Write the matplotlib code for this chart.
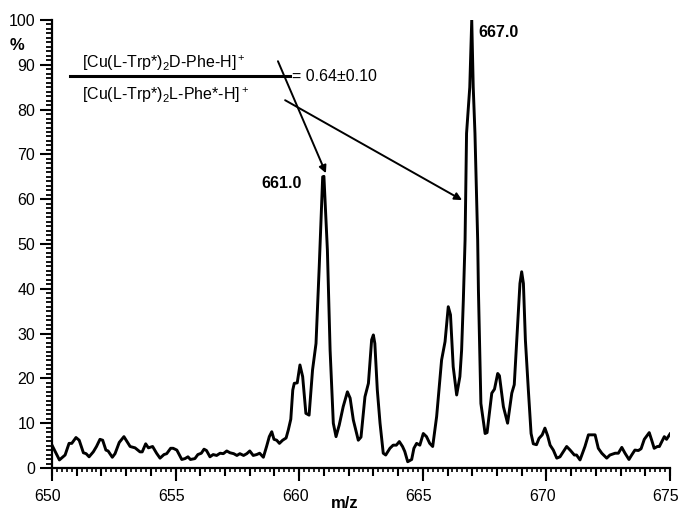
import matplotlib
matplotlib.use("Agg")
import matplotlib.pyplot as plt
from matplotlib.ticker import MultipleLocator, FuncFormatter
from matplotlib.transforms import ScaledTranslation

plt.rcParams['font.family'] = ['Liberation Sans', 'DejaVu Sans']
plt.rcParams['mathtext.fontset'] = 'custom'
plt.rcParams['mathtext.rm'] = 'Liberation Sans'
plt.rcParams['mathtext.it'] = 'Liberation Sans'
plt.rcParams['mathtext.bf'] = 'Liberation Sans:bold'

mz = [650.00, 650.30, 650.53, 650.69, 650.80, 650.97, 651.10, 651.27, 651.38, 651.50,
      651.67, 651.80, 651.94, 652.05, 652.18, 652.27, 652.44, 652.55, 652.72, 652.91,
      653.00, 653.16, 653.36, 653.56, 653.65, 653.79, 653.90, 654.07, 654.23, 654.37,
      654.53, 654.64, 654.80, 654.90, 655.05, 655.25, 655.38, 655.50, 655.60, 655.78,
      655.90, 656.04, 656.15, 656.25, 656.39, 656.52, 656.66, 656.80, 656.93, 657.07,
      657.20, 657.35, 657.48, 657.60, 657.75, 657.88, 658.00, 658.14, 658.28, 658.40,
      658.55, 658.68, 658.79, 658.89, 658.98, 659.09, 659.20, 659.33, 659.47, 659.56,
      659.66, 659.74, 659.80, 659.92, 660.03, 660.14, 660.27, 660.40, 660.54, 660.68,
      660.81, 660.95, 661.00, 661.14, 661.25, 661.38, 661.49, 661.62, 661.78, 661.95,
      662.06, 662.19, 662.39, 662.50, 662.66, 662.80, 662.93, 663.00, 663.06, 663.16,
      663.27, 663.40, 663.50, 663.67, 663.80, 663.93, 664.05, 664.18, 664.27, 664.39,
      664.55, 664.64, 664.75, 664.88, 665.02, 665.15, 665.28, 665.40, 665.56, 665.76,
      665.90, 666.03, 666.12, 666.23, 666.37, 666.50, 666.57, 666.64, 666.71, 666.77,
      666.90, 666.98, 667.04, 667.11, 667.22, 667.25, 667.35, 667.52, 667.60, 667.79,
      667.90, 668.03, 668.10, 668.26, 668.43, 668.60, 668.70, 668.80, 668.93, 669.00,
      669.07, 669.15, 669.27, 669.38, 669.47, 669.60, 669.70, 669.83, 669.94, 670.05,
      670.15, 670.28, 670.42, 670.55, 670.82, 670.96, 671.13, 671.22, 671.36, 671.56,
      671.70, 671.97, 672.10, 672.24, 672.44, 672.57, 672.78, 672.91, 673.05, 673.18,
      673.34, 673.45, 673.58, 673.72, 673.83, 673.96, 674.16, 674.26, 674.36, 674.49,
      674.57, 674.77, 674.86, 674.93, 675.00]
intensity = [5.1, 1.8, 2.9, 5.5, 5.5, 6.8, 6.2, 3.4, 3.2, 2.5,
             3.6, 4.8, 6.4, 6.2, 4.0, 3.8, 2.4, 3.2, 5.7, 7.0,
             6.2, 4.8, 4.5, 3.6, 3.6, 5.4, 4.5, 4.8, 3.3, 2.2,
             3.0, 3.2, 4.4, 4.4, 4.0, 1.9, 2.1, 2.5, 1.9, 2.1,
             3.0, 3.3, 4.2, 3.9, 2.5, 3.0, 2.8, 3.3, 3.2, 3.8,
             3.4, 3.2, 2.8, 3.2, 2.8, 3.2, 3.8, 2.8, 3.0, 3.3,
             2.4, 4.8, 7.0, 8.1, 6.4, 6.2, 5.5, 6.2, 6.7, 8.5,
             10.9, 17.4, 18.9, 19.0, 23.0, 20.4, 12.2, 11.8, 21.9, 27.8,
             44.9, 65.0, 65.1, 48.7, 26.3, 10.0, 7.0, 9.6, 13.7, 17.0,
             15.6, 10.7, 6.2, 6.9, 15.9, 18.9, 28.6, 29.7, 27.8, 17.4,
             10.0, 3.3, 2.9, 4.4, 5.1, 5.1, 5.9, 4.8, 3.7, 1.4,
             1.9, 4.4, 5.5, 5.1, 7.7, 7.0, 5.5, 4.8, 11.5, 24.1,
             28.2, 36.0, 34.2, 22.6, 16.3, 20.4, 26.3, 37.5, 50.9, 74.7,
             85.0, 100.0, 85.0, 74.7, 50.9, 39.7, 14.4, 7.7, 7.9, 16.7,
             17.6, 21.1, 20.6, 13.7, 10.0, 16.7, 18.6, 28.6, 41.2, 43.8,
             41.2, 28.6, 17.4, 7.7, 5.4, 5.2, 6.6, 7.4, 8.9, 7.2,
             5.1, 4.0, 2.2, 2.5, 4.8, 4.0, 2.9, 2.9, 1.8, 4.8,
             7.4, 7.4, 4.4, 3.3, 2.2, 2.9, 3.3, 3.3, 4.6, 3.3,
             1.9, 2.9, 4.0, 3.9, 4.3, 6.4, 7.9, 6.2, 4.4, 4.8,
             4.8, 7.0, 6.4, 7.0, 7.6]

peak_labels = ["661.0", "667.0"]
numerator = r"[Cu(L-Trp*)$_2$D-Phe-H]$^+$"
denominator = r"[Cu(L-Trp*)$_2$L-Phe*-H]$^+$"
ratio_text = "= 0.64±0.10"

fig = plt.figure(figsize=(6.81, 5.11), dpi=100)
ax = fig.add_axes([52/681, 43/511, 618/681, 448/511])
ax.plot(mz, intensity, color='black', lw=2.1, solid_joinstyle='round')
ax.set_xlim(650, 675)
ax.set_ylim(0, 100)
for s in ['top', 'right']:
    ax.spines[s].set_visible(False)
for s in ['left', 'bottom']:
    ax.spines[s].set_linewidth(1.6)

ax.xaxis.set_major_locator(MultipleLocator(1))
ax.xaxis.set_minor_locator(MultipleLocator(0.2))
ax.xaxis.set_major_formatter(FuncFormatter(lambda v, p: f"{int(round(v))}" if int(round(v)) % 5 == 0 else ""))
ax.yaxis.set_major_locator(MultipleLocator(10))
ax.yaxis.set_minor_locator(MultipleLocator(1))
ax.tick_params(axis='x', which='major', length=6, width=1.5, labelsize=11.5, pad=9)
ax.tick_params(axis='x', which='minor', length=3, width=1.2)
ax.tick_params(axis='y', which='major', length=9, width=1.5, labelsize=11.5, pad=3)
ax.tick_params(axis='y', which='minor', length=4.5, width=1.3)

shift = ScaledTranslation(-4/100, 0, fig.dpi_scale_trans)
for lbl in ax.get_xticklabels():
    lbl.set_transform(lbl.get_transform() + shift)

sec = ax.secondary_xaxis('bottom')
sec.set_xticks(list(range(650, 676, 5)))
sec.tick_params(length=9, width=1.5, labelbottom=False)
sec.spines['bottom'].set_visible(False)

fig.text(17/681, 1 - 45/511, "%", fontsize=12, fontweight='bold', ha='center', va='center')
fig.text(345/681, 1 - 503/511, "m/z", fontsize=12, fontweight='bold', ha='center', va='center')

ax.text(660.1, 63.6, peak_labels[0], fontsize=11.5, fontweight='bold', ha='right', va='center')
ax.text(667.23, 97.3, peak_labels[1], fontsize=11.5, fontweight='bold', ha='left', va='center')

ax.plot([650.73, 659.63], [87.5, 87.5], color='black', lw=2.2, clip_on=False)
ax.text(651.2, 90.3, numerator, fontsize=11.5, ha='left', va='center')
ax.text(651.2, 83.3, denominator, fontsize=11.5, ha='left', va='center')
ax.text(659.71, 87.3, ratio_text, fontsize=11.5, ha='left', va='center')

arrow = dict(arrowstyle='-|>', lw=1.4, color='black', mutation_scale=11, shrinkA=0, shrinkB=0)
ax.annotate("", xy=(661.08, 65.8), xytext=(659.14, 90.8), arrowprops=arrow)
ax.annotate("", xy=(666.59, 59.8), xytext=(659.43, 82.1), arrowprops=arrow)

fig.savefig("out.png", dpi=100)
